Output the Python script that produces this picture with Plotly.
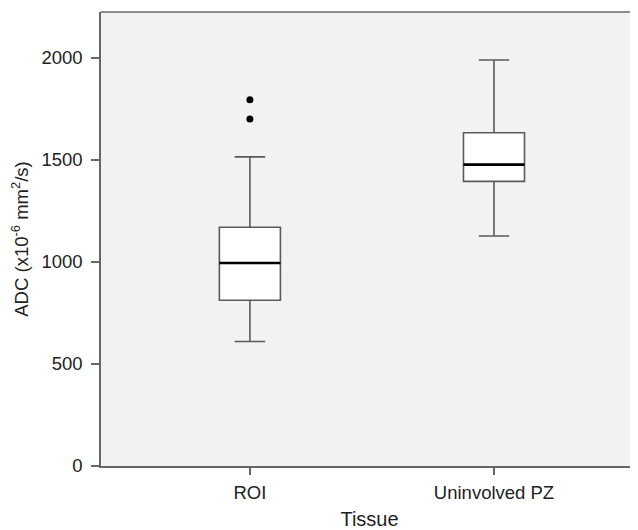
import plotly.graph_objects as go

categories = ["ROI", "Uninvolved PZ"]
q1 = [812, 1395]
median = [995, 1477]
q3 = [1170, 1633]
lower_whisker = [610, 1127]
upper_whisker = [1515, 1990]
outlier_cat = [0, 0]
outlier_val = [1795, 1700]

box_w = 0.25
xs = list(range(len(categories)))

fig = go.Figure()
fig.add_trace(go.Box(
    x=xs, q1=q1, median=median, q3=q3,
    lowerfence=lower_whisker, upperfence=upper_whisker,
    width=box_w, whiskerwidth=0.5,
    fillcolor="white", line=dict(color="#5a5a5a", width=1.6),
    boxpoints=False, showlegend=False, hoverinfo="skip",
))
for i, m in zip(xs, median):
    fig.add_trace(go.Scatter(
        x=[i - box_w / 2, i + box_w / 2], y=[m, m], mode="lines",
        line=dict(color="black", width=2.6), showlegend=False, hoverinfo="skip",
    ))
fig.add_trace(go.Scatter(
    x=outlier_cat, y=outlier_val, mode="markers",
    marker=dict(color="black", size=7), showlegend=False, hoverinfo="skip",
))

font = "Liberation Sans, Arial, sans-serif"
fig.update_layout(
    width=630, height=522,
    margin=dict(l=93, r=0, t=4, b=64),
    paper_bgcolor="white", plot_bgcolor="#f2f2f2",
    font=dict(family=font, size=18.5, color="#222"),
    xaxis=dict(
        range=[-0.61, 1.59], tickvals=xs, ticktext=categories,
        showgrid=False, zeroline=False, showline=True, linecolor="#666", linewidth=1.5,
        ticks="outside", ticklen=7, tickcolor="#666", tickwidth=1.5,
        ticklabelstandoff=2,
        title=dict(text="Tissue", standoff=10, font=dict(size=20)),
        tickfont=dict(size=18.5),
    ),
    yaxis=dict(
        range=[0, 2225], tickvals=[0, 500, 1000, 1500, 2000],
        showgrid=False, zeroline=False, showline=True, linecolor="#666", linewidth=1.5,
        ticks="outside", ticklen=8, tickcolor="#666", tickwidth=1.5,
        ticklabelstandoff=5,
        title=dict(text="ADC (x10<sup>-6</sup> mm<sup>2</sup>/s)", standoff=19, font=dict(size=18.5)),
        tickfont=dict(size=18.5),
    ),
    shapes=[dict(type="line", xref="paper", yref="paper", x0=0, x1=1, y0=1, y1=1,
                 line=dict(color="#666", width=1.5))],
)
fig.write_html("out.html")
